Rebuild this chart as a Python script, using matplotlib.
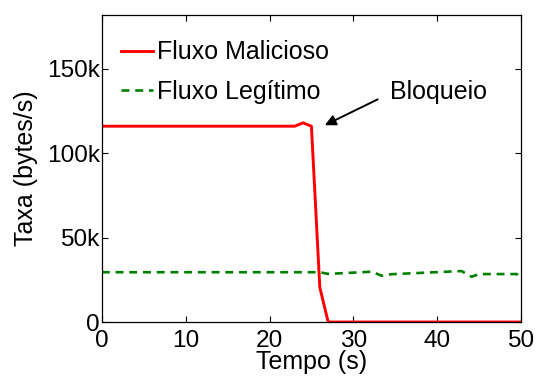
import numpy as np
import matplotlib
matplotlib.use("Agg")
import matplotlib.pyplot as plt
from matplotlib.ticker import FixedLocator

plt.rcParams["font.family"] = ["Liberation Sans", "DejaVu Sans"]

# data
mal_t = [0, 23, 24, 25, 26, 27, 50]
mal_rate = [116000, 116000, 118000, 116000, 20500, 0, 0]

leg_t = [0, 26, 27, 32.2, 33.4, 34.5, 42.9, 44.1, 45, 49.5, 50]
leg_rate = [29500, 29500, 28500, 29800, 27400, 28300, 30200, 26800, 28400, 28400, 25300]

x_ticks = [0, 10, 20, 30, 40, 50]
y_ticks = [0, 50000, 100000, 150000]
y_tick_labels = ["0", "50k", "100k", "150k"]

fs = 18
tick_fs = 17.6

fig = plt.figure(figsize=(5.36, 3.76), dpi=100)
ax = fig.add_axes([0.190, 0.1436, 0.782, 0.817])

ax.plot(mal_t, mal_rate, "-", color="#ff0000", linewidth=2.1, label="Fluxo Malicioso")
ax.plot(leg_t, leg_rate, "--", color="#008000", linewidth=1.9, dashes=(3.0, 2.2),
        label="Fluxo Legítimo")

ax.set_xlim(0, 50)
ax.set_ylim(0, 182000)
ax.xaxis.set_major_locator(FixedLocator(x_ticks))
ax.set_yticks(y_ticks)
ax.set_yticklabels(y_tick_labels)

ax.tick_params(axis="both", which="both", direction="in", length=4, width=0.8,
               top=True, right=True, labelsize=tick_fs)
ax.tick_params(axis="x", pad=5.5)
ax.tick_params(axis="y", pad=1.5)
for spine in ax.spines.values():
    spine.set_linewidth(0.9)

ax.set_xlabel("Tempo (s)", fontsize=fs, labelpad=-1.5)
ax.set_ylabel("Taxa (bytes/s)", fontsize=fs, labelpad=6)

ax.legend(loc="upper left", frameon=False, fontsize=fs, handlelength=1.25,
          handletextpad=0.16, labelspacing=0.62, borderaxespad=0.0,
          borderpad=0.4, bbox_to_anchor=(0.023, 0.949))

ax.annotate("", xy=(26.6, 116600), xytext=(32.9, 131900),
            arrowprops=dict(arrowstyle="-|>", color="black", lw=1.4,
                            mutation_scale=16, shrinkA=0, shrinkB=0))
ax.text(34.4, 136000, "Bloqueio", fontsize=fs, va="center", ha="left")

fig.savefig("out.png", dpi=100)
